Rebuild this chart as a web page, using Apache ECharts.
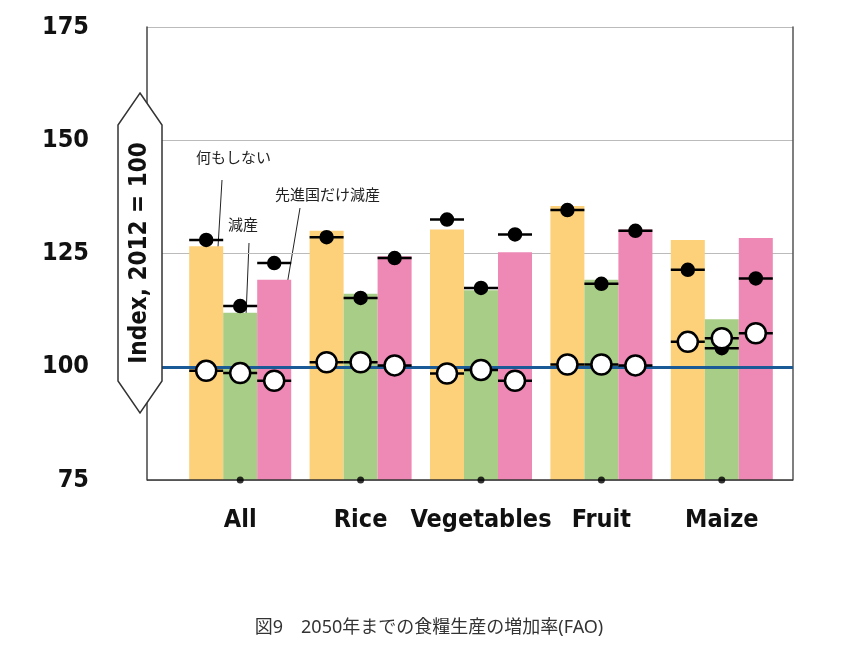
<!DOCTYPE html>
<html><head><meta charset="utf-8">
<script src="https://cdn.jsdelivr.net/npm/echarts@6/dist/echarts.min.js"></script>
<style>html,body{margin:0;background:#fff}#c{width:858px;height:659px}</style>
</head><body><div id="c"></div>
<script>
var categories = ['All', 'Rice', 'Vegetables', 'Fruit', 'Maize'];
var yTicks = [75, 100, 125, 150, 175];
// bars
var barNothing = [126.6, 130.0, 130.3, 135.5, 128.0];
var barReduce = [111.9, 116.1, 116.9, 119.2, 110.5];
var barDeveloped = [119.2, 124.4, 125.3, 130.3, 128.4];
// filled dots
var dotNothing = [128.0, 128.6, 132.5, 134.6, 121.4];
var dotReduce = [113.4, 115.2, 117.4, 118.3, 104.1];
var dotDeveloped = [122.9, 124.0, 129.2, 130.0, 119.5];
// open circles
var ringNothing = [99.1, 101.0, 98.5, 100.5, 105.5];
var ringReduce = [98.6, 101.0, 99.3, 100.5, 106.3];
var ringDeveloped = [96.9, 100.3, 96.9, 100.3, 107.4];

var BW = 34;
var chart = echarts.init(document.getElementById('c'));

function marker(data, slot, filled) {
  return {
    type: 'custom', xAxisIndex: 1, yAxisIndex: 1, z: 5,
    data: data.map(function (v, i) { return [i, v]; }),
    renderItem: function (params, api) {
      var p = api.coord([api.value(0), api.value(1)]);
      var x = p[0] + slot * BW;
      return {
        type: 'group',
        children: [
          { type: 'line', shape: { x1: x - BW / 2, y1: p[1], x2: x + BW / 2, y2: p[1] },
            style: { stroke: '#000', lineWidth: 2.5 } },
          { type: 'circle', shape: { cx: x, cy: p[1], r: filled ? 6 : 10 },
            style: { fill: filled ? '#000' : '#fff', stroke: '#000', lineWidth: 2.5 } }
        ]
      };
    }
  };
}

function bars(data, color) {
  return { type: 'bar', xAxisIndex: 1, yAxisIndex: 1, data: data, barWidth: BW, barGap: '0%',
    itemStyle: { color: color }, silent: true };
}

var fontFam = '"Noto Sans", "Noto Sans CJK JP", sans-serif';
var condFam = '"DejaVu Sans Condensed", "Noto Sans", sans-serif';

chart.setOption({
  animation: false,
  grid: [
    { left: 147, right: 65, top: 27, bottom: 179 },
    { left: 180, right: 76, top: 27, bottom: 179 }
  ],
  xAxis: [
    { type: 'value', gridIndex: 0, min: 0, max: 1, show: true,
      axisLine: { show: false }, axisTick: { show: false }, axisLabel: { show: false }, splitLine: { show: false } },
    { type: 'category', gridIndex: 1, data: categories,
      axisLine: { show: false }, axisTick: { show: false },
      axisLabel: { interval: 0, color: '#111', fontSize: 25, fontFamily: condFam, fontWeight: 'bold', margin: 28 } }
  ],
  yAxis: [
    { type: 'value', gridIndex: 0, min: yTicks[0], max: yTicks[yTicks.length - 1], interval: 25,
      axisLine: { show: true, lineStyle: { color: '#444', width: 1.5 } }, axisTick: { show: false },
      axisLabel: { color: '#111', fontSize: 25, fontFamily: condFam, fontWeight: 'bold', margin: 58 },
      splitLine: { lineStyle: { color: '#bbb', width: 1 } } },
    { type: 'value', gridIndex: 1, min: 75, max: 175, show: false },
    { type: 'value', gridIndex: 0, min: 75, max: 175, position: 'right',
      axisLine: { show: true, lineStyle: { color: '#555', width: 1.5 } }, axisTick: { show: false },
      axisLabel: { show: false }, splitLine: { show: false } }
  ],
  series: [
    { type: 'line', xAxisIndex: 0, yAxisIndex: 0, data: [], z: 4,
      markLine: { silent: true, symbol: 'none', label: { show: false },
        lineStyle: { color: '#1a5a96', width: 3, type: 'solid' }, data: [{ yAxis: 100 }] } },
    { type: 'line', xAxisIndex: 0, yAxisIndex: 0, data: [], z: 1,
      markLine: { silent: true, symbol: 'none', label: { show: false },
        lineStyle: { color: '#333', width: 1.5, type: 'solid' }, data: [{ yAxis: 75 }] } },
    bars(barNothing, '#fdd07a'),
    bars(barReduce, '#a8cd86'),
    bars(barDeveloped, '#ee88b5'),
    { type: 'scatter', xAxisIndex: 1, yAxisIndex: 1, data: categories.map(function (c) { return [c, 75]; }),
      symbolSize: 7, itemStyle: { color: '#000' }, clip: false, z: 6 },
    marker(dotNothing, -1, true), marker(dotReduce, 0, true), marker(dotDeveloped, 1, true),
    marker(ringNothing, -1, false), marker(ringReduce, 0, false), marker(ringDeveloped, 1, false)
  ],
  graphic: [
    { type: 'polygon', z: 10,
      shape: { points: [[140, 93], [162, 125], [162, 381], [140, 413], [118, 381], [118, 125]] },
      style: { fill: '#fff', stroke: '#333', lineWidth: 1.5 } },
    { type: 'text', z: 11, x: 140, y: 253, rotation: Math.PI / 2,
      style: { text: 'Index, 2012 = 100', fontSize: 24, fontWeight: 'bold', fontFamily: condFam,
        fill: '#111', align: 'center', verticalAlign: 'middle' } },
    { type: 'text', x: 196, y: 151, style: { text: '何もしない', fontSize: 15, fontFamily: fontFam, fill: '#222' } },
    { type: 'line', shape: { x1: 222, y1: 180, x2: 218, y2: 247 }, style: { stroke: '#222', lineWidth: 1 } },
    { type: 'text', x: 228, y: 218, style: { text: '減産', fontSize: 15, fontFamily: fontFam, fill: '#222' } },
    { type: 'line', shape: { x1: 249, y1: 243, x2: 246, y2: 316 }, style: { stroke: '#222', lineWidth: 1 } },
    { type: 'text', x: 275, y: 188, style: { text: '先進国だけ減産', fontSize: 15, fontFamily: fontFam, fill: '#222' } },
    { type: 'line', shape: { x1: 300, y1: 208, x2: 287, y2: 285 }, style: { stroke: '#222', lineWidth: 1 } },
    { type: 'text', x: 429, y: 628,
      style: { text: '図9　2050年までの食糧生産の増加率(FAO)', fontSize: 18, fontFamily: fontFam,
        fill: '#333', align: 'center', verticalAlign: 'middle' } }
  ]
});
</script></body></html>
